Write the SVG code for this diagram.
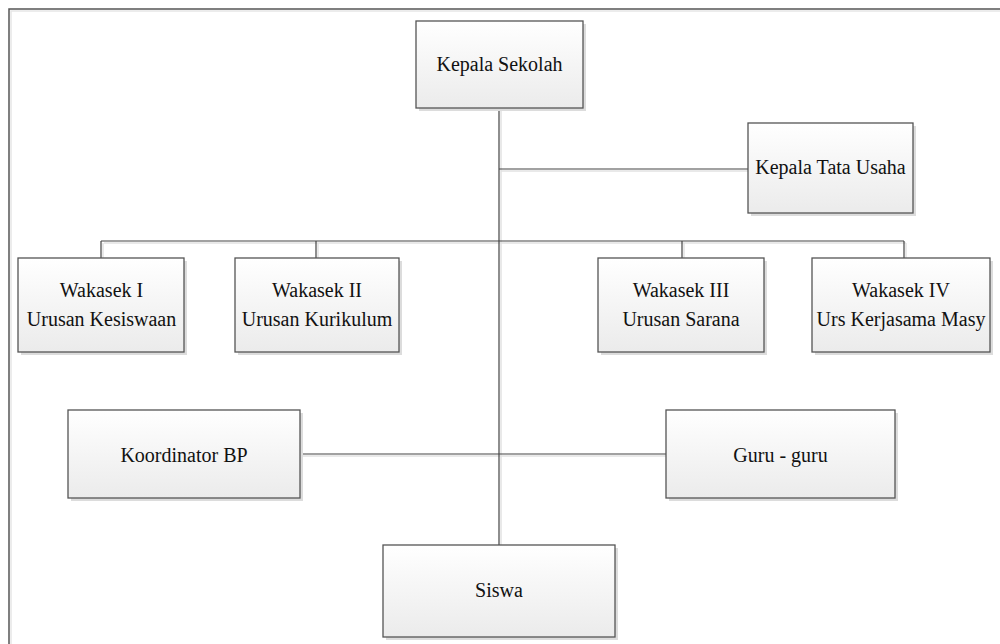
<svg xmlns="http://www.w3.org/2000/svg" width="1000" height="644" viewBox="0 0 1000 644">
<defs>
<linearGradient id="g" x1="0" y1="0" x2="0" y2="1">
<stop offset="0" stop-color="#ffffff"/>
<stop offset="1" stop-color="#ebebeb"/>
</linearGradient>
</defs>
<style>
.box{fill:url(#g);stroke:#555;stroke-width:1.3}
.sh{fill:#dcdcdc}
.t{font-family:"Liberation Serif","Times New Roman",serif;font-size:20px;fill:#111;text-anchor:middle}
.c{stroke:#444;stroke-width:1.2;fill:none}
.cs{stroke:#e2e2e2;stroke-width:1.5;fill:none}
</style>
<rect width="1000" height="644" fill="#fff"/>
<g id="frame">
<path d="M11 644V11H1000" fill="none" stroke="#e6e6e6" stroke-width="1.5"/>
<path d="M9 644V9H1000" fill="none" stroke="#555" stroke-width="1.5"/>
</g>
<g id="connectors">
<path class="cs" d="M501 108V545M501 171H748M104 243H906M103 243V258M318 243V258M684 243V258M906 243V258M300 456H666"/>
<path class="c" d="M499 108V545M499 169H748M101 241H904M101 241V258M316 241V258M682 241V258M904 241V258M300 454H666"/>
</g>
<g id="kepala-sekolah">
<rect class="sh" x="419" y="24" width="167" height="87"/>
<rect class="box" x="416" y="21" width="167" height="87"/>
<text class="t" x="499.5" y="71">Kepala Sekolah</text>
</g>
<g id="kepala-tata-usaha">
<rect class="sh" x="751" y="126" width="165" height="90"/>
<rect class="box" x="748" y="123" width="165" height="90"/>
<text class="t" x="830.5" y="174">Kepala Tata Usaha</text>
</g>
<g id="wakasek-1">
<rect class="sh" x="21" y="261" width="166" height="94"/>
<rect class="box" x="18" y="258" width="166" height="94"/>
<text class="t" x="101.5" y="297">Wakasek I</text>
<text class="t" x="101.5" y="326">Urusan Kesiswaan</text>
</g>
<g id="wakasek-2">
<rect class="sh" x="238" y="261" width="164" height="94"/>
<rect class="box" x="235" y="258" width="164" height="94"/>
<text class="t" x="317" y="297">Wakasek II</text>
<text class="t" x="317" y="326">Urusan Kurikulum</text>
</g>
<g id="wakasek-3">
<rect class="sh" x="601" y="261" width="166" height="94"/>
<rect class="box" x="598" y="258" width="166" height="94"/>
<text class="t" x="681" y="297">Wakasek III</text>
<text class="t" x="681" y="326">Urusan Sarana</text>
</g>
<g id="wakasek-4">
<rect class="sh" x="815" y="261" width="178" height="94"/>
<rect class="box" x="812" y="258" width="178" height="94"/>
<text class="t" x="901" y="297">Wakasek IV</text>
<text class="t" x="901" y="326">Urs Kerjasama Masy</text>
</g>
<g id="koordinator-bp">
<rect class="sh" x="71" y="413" width="232" height="88"/>
<rect class="box" x="68" y="410" width="232" height="88"/>
<text class="t" x="184" y="462">Koordinator BP</text>
</g>
<g id="guru-guru">
<rect class="sh" x="669" y="413" width="229" height="88"/>
<rect class="box" x="666" y="410" width="229" height="88"/>
<text class="t" x="780.5" y="462">Guru - guru</text>
</g>
<g id="siswa">
<rect class="sh" x="386" y="548" width="232" height="92"/>
<rect class="box" x="383" y="545" width="232" height="92"/>
<text class="t" x="499" y="597">Siswa</text>
</g>
</svg>
